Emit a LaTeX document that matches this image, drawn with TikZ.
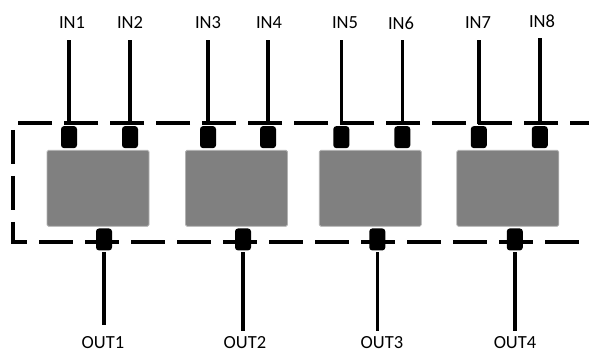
\documentclass[tikz,border=0pt]{standalone}
\usepackage{fontspec}
\setmainfont{Carlito}
\usepackage{tikz}
\usetikzlibrary{positioning}

\begin{document}
\begin{tikzpicture}[x=1pt,y=1pt,line width=3.5pt]
  \tikzstyle{block}=[fill=black!50,draw=black!30,line width=0.8pt,rounded corners=1.5pt,minimum width=102pt,minimum height=76pt,inner sep=0pt]
  \tikzstyle{pad}=[fill=black,rounded corners=3pt,minimum width=16pt,minimum height=22pt,inner sep=0pt]
  \tikzstyle{lbl}=[font=\fontsize{18.5}{21}\selectfont,inner sep=1pt]
  \tikzstyle{frame}=[dash pattern=on 34pt off 12pt,dash phase=4pt]
  \tikzstyle{wirein}=[shorten >=8pt]
  \tikzstyle{wireout}=[shorten >=3pt]

  \useasboundingbox (0,0) rectangle (589,352);

  % dashed enclosure
  \coordinate (TR) at (600,229);
  \coordinate (TL) at (13,229);
  \coordinate (BL) at (13,110);
  \coordinate (BR) at (600,110);
  \draw[frame] (TR) -- (TL) -- (BL) -- (BR);

  % blocks
  \node[block] (B1) at (98,163.7)  {};
  \node[block] (B2) at (236.5,163.7) {};
  \node[block] (B3) at (370.3,163.7) {};
  \node[block] (B4) at (507.8,163.7) {};

  % input pads
  \node[pad] (P1) [above=0pt of B1.north, xshift=-29pt] {};
  \node[pad] (P2) [above=0pt of B1.north, xshift=32pt]  {};
  \node[pad] (P3) [above=0pt of B2.north, xshift=-28.5pt] {};
  \node[pad] (P4) [above=0pt of B2.north, xshift=31.5pt]  {};
  \node[pad] (P5) [above=0pt of B3.north, xshift=-29pt] {};
  \node[pad] (P6) [above=0pt of B3.north, xshift=32pt]  {};
  \node[pad] (P7) [above=0pt of B4.north, xshift=-29pt] {};
  \node[pad] (P8) [above=0pt of B4.north, xshift=32pt]  {};

  % output pads
  \node[pad] (Q1) [below=0pt of B1.south, xshift=6pt]   {};
  \node[pad] (Q2) [below=0pt of B2.south, xshift=6.5pt] {};
  \node[pad] (Q3) [below=0pt of B3.south, xshift=7pt]   {};
  \node[pad] (Q4) [below=0pt of B4.south, xshift=7pt]   {};

  % labels
  \node[lbl] (IN1) at (72,329)  {IN1};
  \node[lbl] (IN2) at (130,329) {IN2};
  \node[lbl] (IN3) at (208,329) {IN3};
  \node[lbl] (IN4) at (269,329) {IN4};
  \node[lbl] (IN5) at (345,329) {IN5};
  \node[lbl] (IN6) at (401,329) {IN6};
  \node[lbl] (IN7) at (478,329) {IN7};
  \node[lbl] (IN8) at (542,331) {IN8};
  \node[lbl] (OUT1) at (103,9.5) {OUT1};
  \node[lbl] (OUT2) at (245,9.5) {OUT2};
  \node[lbl] (OUT3) at (382,9.5) {OUT3};
  \node[lbl] (OUT4) at (515,9.5) {OUT4};

  \path (P1.north) edge[wirein] (P1.north |- IN1.south)
        (P2.north) edge[wirein] (P2.north |- IN2.south)
        (P3.north) edge[wirein] (P3.north |- IN3.south)
        (P4.north) edge[wirein] (P4.north |- IN4.south)
        (P5.north) edge[wirein] (P5.north |- IN5.south)
        (P6.north) edge[wirein] (P6.north |- IN6.south)
        (P7.north) edge[wirein] (P7.north |- IN7.south)
        (P8.north) edge[wirein] (P8.north |- IN8.south);
  \path (Q1.south) edge[wireout,shorten >=9pt] (Q1.south |- OUT1.north)
        (Q2.south) edge[wireout] (Q2.south |- OUT2.north)
        (Q3.south) edge[wireout] (Q3.south |- OUT3.north)
        (Q4.south) edge[wireout] (Q4.south |- OUT4.north);
\end{tikzpicture}
\end{document}
